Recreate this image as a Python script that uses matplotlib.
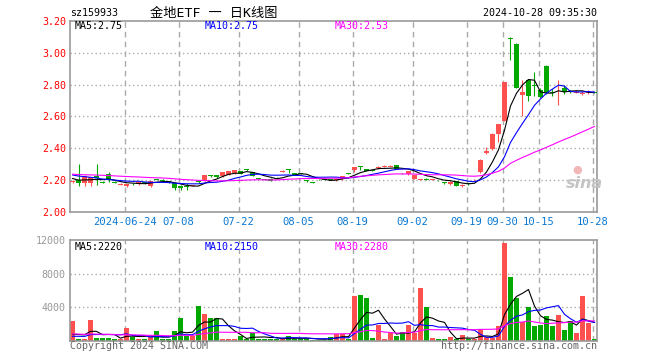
import numpy as np
import pandas as pd
import matplotlib
matplotlib.use("Agg")
import matplotlib.pyplot as plt

W, H = 660, 360

code = "sz159933"
title = "金地ETF 一 日K线图"
stamp = "2024-10-28 09:35:30"

# daily candles, 88 sessions
open_ = [2.186, 2.200, 2.180, 2.183, 2.225, 2.190, 2.236, 2.190, 2.170, 2.166,
         2.178, 2.175, 2.184, 2.162, 2.206, 2.204, 2.194, 2.180, 2.165, 2.165,
         2.165, 2.190, 2.196, 2.232, 2.232, 2.225, 2.235, 2.244, 2.257, 2.265,
         2.250, 2.212, 2.207, 2.210, 2.214, 2.254, 2.266, 2.242, 2.244, 2.197,
         2.187, 2.208, 2.207, 2.206, 2.198, 2.206, 2.243, 2.263, 2.288, 2.268,
         2.262, 2.276, 2.284, 2.285, 2.293, 2.246, 2.238, 2.210, 2.202, 2.207,
         2.203, 2.200, 2.187, 2.175, 2.192, 2.162, 2.178, 2.198, 2.250, 2.372,
         2.395, 2.492, 2.570, 3.096, 3.057, 2.734, 2.831, 2.795, 2.768, 2.919,
         2.755, 2.795, 2.778, 2.757, 2.750, 2.744, 2.748, 2.752]
high = [2.200, 2.300, 2.230, 2.220, 2.300, 2.195, 2.252, 2.192, 2.180, 2.178,
        2.180, 2.190, 2.186, 2.195, 2.210, 2.206, 2.196, 2.182, 2.168, 2.180,
        2.172, 2.192, 2.233, 2.234, 2.234, 2.252, 2.258, 2.266, 2.260, 2.270,
        2.252, 2.215, 2.210, 2.212, 2.218, 2.262, 2.268, 2.244, 2.246, 2.200,
        2.188, 2.210, 2.209, 2.208, 2.208, 2.228, 2.245, 2.285, 2.288, 2.270,
        2.265, 2.286, 2.295, 2.296, 2.295, 2.248, 2.260, 2.233, 2.210, 2.212,
        2.208, 2.202, 2.187, 2.192, 2.194, 2.175, 2.180, 2.206, 2.330, 2.406,
        2.495, 2.556, 2.814, 3.100, 3.060, 2.831, 2.835, 2.877, 2.780, 2.922,
        2.770, 2.827, 2.795, 2.765, 2.765, 2.760, 2.765, 2.756]
low = [2.180, 2.165, 2.165, 2.165, 2.168, 2.180, 2.190, 2.180, 2.168, 2.155,
       2.168, 2.170, 2.176, 2.160, 2.200, 2.190, 2.185, 2.140, 2.140, 2.137,
       2.162, 2.185, 2.195, 2.220, 2.215, 2.222, 2.232, 2.240, 2.236, 2.258,
       2.225, 2.205, 2.200, 2.192, 2.206, 2.250, 2.244, 2.230, 2.238, 2.190,
       2.183, 2.202, 2.200, 2.200, 2.195, 2.204, 2.238, 2.250, 2.263, 2.255,
       2.255, 2.270, 2.280, 2.280, 2.270, 2.240, 2.235, 2.208, 2.198, 2.198,
       2.200, 2.195, 2.175, 2.172, 2.162, 2.155, 2.172, 2.196, 2.245, 2.364,
       2.390, 2.440, 2.570, 2.957, 2.780, 2.604, 2.698, 2.726, 2.715, 2.740,
       2.730, 2.673, 2.740, 2.745, 2.745, 2.738, 2.740, 2.745]
close = [2.192, 2.180, 2.225, 2.217, 2.211, 2.185, 2.200, 2.185, 2.175, 2.175,
         2.173, 2.187, 2.181, 2.192, 2.203, 2.192, 2.187, 2.148, 2.152, 2.158,
         2.170, 2.187, 2.231, 2.229, 2.217, 2.250, 2.255, 2.263, 2.238, 2.262,
         2.227, 2.208, 2.204, 2.194, 2.210, 2.258, 2.263, 2.232, 2.240, 2.194,
         2.185, 2.205, 2.204, 2.203, 2.205, 2.225, 2.241, 2.282, 2.285, 2.257,
         2.260, 2.280, 2.288, 2.290, 2.271, 2.242, 2.257, 2.231, 2.206, 2.204,
         2.206, 2.198, 2.185, 2.190, 2.165, 2.170, 2.175, 2.203, 2.326, 2.382,
         2.490, 2.553, 2.814, 3.090, 2.782, 2.751, 2.726, 2.790, 2.722, 2.747,
         2.750, 2.800, 2.751, 2.752, 2.755, 2.748, 2.752, 2.748]
volume = [2360, 280, 200, 2480, 400, 400, 400, 200, 280, 1520,
          480, 200, 280, 480, 1160, 200, 200, 1160, 2760, 560,
          560, 4200, 3200, 2720, 2720, 200, 200, 200, 600, 280,
          960, 280, 280, 280, 280, 200, 560, 280, 280, 280,
          160, 160, 160, 520, 880, 800, 200, 5360, 5480, 5160,
          320, 1960, 200, 1000, 560, 1040, 1880, 1000, 6320, 4040,
          320, 200, 200, 440, 200, 680, 200, 200, 1480, 440,
          360, 1760, 11600, 7640, 5120, 2200, 4040, 1760, 1880, 2960,
          1760, 3080, 1280, 2400, 920, 5400, 2120, 200]

# sessions before the window, only feed the moving averages
pre_close = [2.25, 2.26, 2.25, 2.24, 2.23, 2.24, 2.25, 2.24, 2.23, 2.22,
             2.23, 2.24, 2.25, 2.24, 2.23, 2.24, 2.25, 2.24, 2.23, 2.24,
             2.25, 2.26, 2.26, 2.25, 2.255, 2.23, 2.22, 2.21, 2.20]
pre_volume = [900, 1100, 950, 1000, 1050, 880, 960, 1020, 990, 950,
              1000, 970, 1010, 940, 980, 1000, 960, 1030, 990, 920,
              300, 340, 310, 330, 320, 420, 390, 400, 430]

date_labels = ["2024-06-24", "07-08", "07-22", "08-05", "08-19",
               "09-02", "09-19", "09-30", "10-15", "10-28"]
date_idx = [9, 18, 28, 38, 47, 57, 66, 72, 78, 87]
price_ticks = [2.00, 2.20, 2.40, 2.60, 2.80, 3.00, 3.20]
vol_ticks = [4000, 8000, 12000]
ma_windows = [5, 10, 30]
price_ma_text = ["MA5:2.75", "MA10:2.75", "MA30:2.53"]
vol_ma_text = ["MA5:2220", "MA10:2150", "MA30:2280"]

RED, GREEN = "#ff5050", "#00a800"
MA_COLORS = ["black", "#0000ff", "#ff00ff"]
GRID = "#aaaaaa"
MONO = "DejaVu Sans Mono"


def px(x, y):
    return x / W, 1 - y / H


o, h, l, c = map(np.array, (open_, high, low, close))
v = np.array(volume, dtype=float)
x = np.arange(len(c))
col = np.where(c >= o, RED, GREEN)

cs = pd.Series(pre_close + close)
vs = pd.Series(pre_volume + volume, dtype=float)
n0 = len(pre_close)

fig = plt.figure(figsize=(W / 100, H / 100), dpi=100)
ax = fig.add_axes([70 / W, 1 - 212 / H, 527 / W, 191 / H])
axv = fig.add_axes([70 / W, 1 - 341 / H, 527 / W, 101 / H])

for a in (ax, axv):
    a.set_xlim(-0.42, len(c) - 0.58)
    for s in a.spines.values():
        s.set_color("#999999")
        s.set_linewidth(1.2)
    for i in date_idx:
        a.axvline(i - 0.3, color=GRID, lw=1, ls=(0, (4, 3)), zorder=0)
    a.tick_params(length=0)

# price panel
ax.set_ylim(price_ticks[0], price_ticks[-1])
for t in price_ticks[1:-1]:
    ax.axhline(t, color=GRID, lw=1, ls=(0, (1, 2)), zorder=0)
ax.vlines(x, l, h, colors=col, lw=0.8, zorder=2)
ax.bar(x, np.maximum(np.abs(c - o), 0.006), bottom=np.minimum(o, c),
       width=0.84, color=col, linewidth=0, zorder=3)
for w, mc in zip(ma_windows, MA_COLORS):
    ax.plot(x, cs.rolling(w).mean().to_numpy()[n0:], color=mc, lw=0.8, zorder=4)

ax.set_yticks(price_ticks)
ax.set_yticklabels([f"{t:.2f}" for t in price_ticks], color="red",
                   family=MONO, fontsize=7.2)
ax.set_xticks([i - 0.3 for i in date_idx])
ax.set_xticklabels(date_labels, color="#0a78d2", family=MONO, fontsize=7.6)
ax.tick_params(axis="y", pad=3)
ax.tick_params(axis="x", pad=3.5)

# volume panel
axv.set_ylim(0, vol_ticks[-1])
for t in vol_ticks[:-1]:
    axv.axhline(t, color=GRID, lw=1, ls=(0, (1, 2)), zorder=0)
axv.bar(x, v, width=0.84, color=col, linewidth=0, zorder=2)
for w, mc in zip(ma_windows, MA_COLORS):
    axv.plot(x, vs.rolling(w).mean().to_numpy()[n0:], color=mc, lw=0.8, zorder=3)
axv.set_yticks(vol_ticks)
axv.set_yticklabels([str(t) for t in vol_ticks], color="#999999",
                    family=MONO, fontsize=7.2)
axv.set_xticks([])
axv.tick_params(axis="y", pad=3)

# header and ma labels
fig.text(*px(70, 13), code, family=MONO, fontsize=7.2, va="center")
fig.text(*px(150, 13), title, family=[MONO, "Noto Sans CJK SC"], fontsize=9.5,
         va="center")
fig.text(*px(597, 13), stamp, family=MONO, fontsize=7.2, va="center", ha="right")
for txt, mc, x0 in zip(price_ma_text, MA_COLORS, (75, 205, 335)):
    fig.text(*px(x0, 26), txt, color=mc, family=MONO, fontsize=7.2, va="center")
for txt, mc, x0 in zip(vol_ma_text, MA_COLORS, (75, 205, 335)):
    fig.text(*px(x0, 246.5), txt, color=mc, family=MONO, fontsize=7.2, va="center")

# watermark and footer
fig.text(*px(566, 183), "sina", color="#c4c4c4", fontsize=11.5, style="italic",
         weight="bold", va="center")
fig.text(*px(577, 170), "●", color="#f2b8b8", fontsize=8, va="center", ha="center")
fig.text(*px(70, 346), "Copyright 2024 SINA.COM", color="#666666", family=MONO,
         fontsize=7.2, va="center")
fig.text(*px(597, 346), "http://finance.sina.com.cn", color="#666666", family=MONO,
         fontsize=7.2, va="center", ha="right")

fig.savefig("out.png", dpi=100)
